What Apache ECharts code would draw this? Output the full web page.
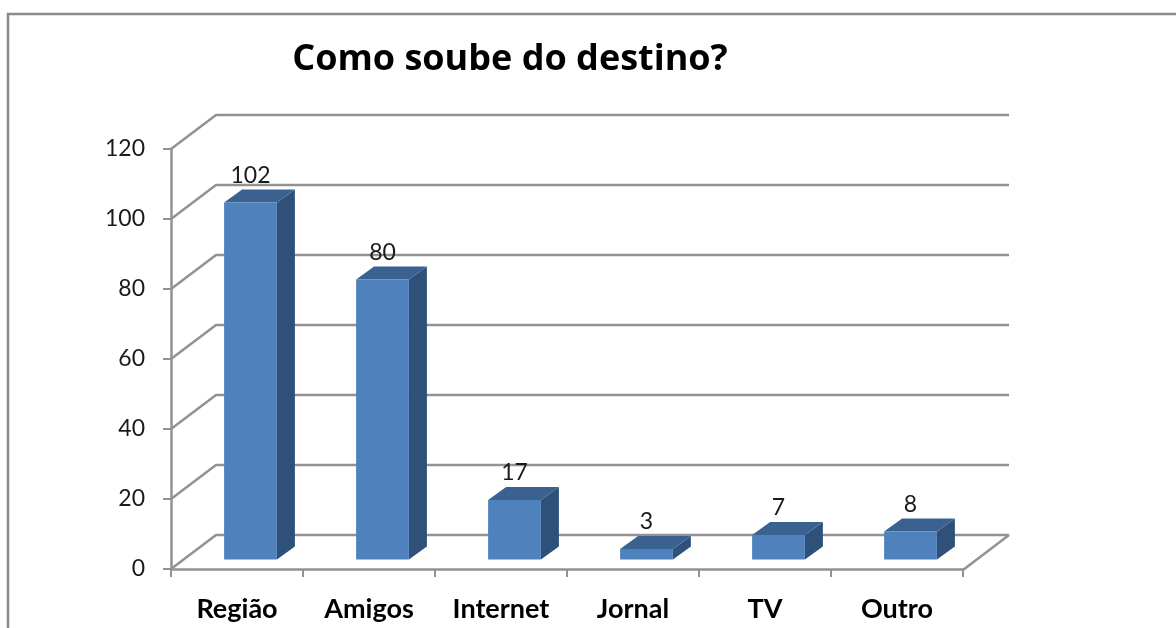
<!DOCTYPE html>
<html>
<head>
<meta charset="utf-8">
<style>
html, body { margin: 0; padding: 0; background: #fff; }
#main { width: 1176px; height: 628px; }
</style>
<script src="https://cdn.jsdelivr.net/npm/echarts@6/dist/echarts.min.js"></script>
</head>
<body>
<div id="main"></div>
<script>
var categories = ['Região', 'Amigos', 'Internet', 'Jornal', 'TV', 'Outro'];
var values = [102, 80, 17, 3, 7, 8];
var yTicks = [0, 20, 40, 60, 80, 100, 120];

var fontName = 'Lato, "Open Sans", sans-serif';
var lineColor = '#929292';

var chart = echarts.init(document.getElementById('main'));

// paredes e chao do falso 3D
function renderWall(params, api) {
    var bandW = api.size([1, 0])[0];
    var p = api.coord([0, api.value(1)]);
    var left = p[0] - bandW / 2;
    var right = left + bandW * categories.length;
    var children = [{
        type: 'polyline',
        shape: { points: [[left, p[1]], [left + 45, p[1] - 34], [right + 46, p[1] - 34]] },
        style: { stroke: lineColor, lineWidth: 2.5, fill: null }
    }];
    if (api.value(1) === 0) {
        children.push({
            type: 'line',
            shape: { x1: right, y1: p[1] + 1, x2: right + 46, y2: p[1] - 34 },
            style: { stroke: lineColor, lineWidth: 2.5 }
        });
    }
    return { type: 'group', children: children };
}

function renderBar(params, api) {
    var idx = api.value(0);
    var w = api.size([1, 0])[0] * 0.4;
    var base = api.coord([idx, 0]);
    var top = api.coord([idx, api.value(1)]);
    var x0 = base[0] + 13.5 - w / 2;
    var x1 = x0 + w;
    var y0 = top[1] - 9.5;
    var y1 = base[1] - 9.5;
    var dx = 18, dy = -13;
    return {
        type: 'group',
        children: [
            {
                type: 'polygon',
                shape: { points: [[x1, y0], [x1 + dx, y0 + dy], [x1 + dx, y1 + dy], [x1, y1]] },
                style: { fill: '#2f5179' }
            },
            {
                type: 'polygon',
                shape: { points: [[x0, y0], [x0 + dx, y0 + dy], [x1 + dx, y0 + dy], [x1, y0]] },
                style: { fill: '#3a6290' }
            },
            {
                type: 'rect',
                shape: { x: x0, y: y0, width: w, height: y1 - y0 },
                style: { fill: '#4f81bd' }
            },
            {
                type: 'text',
                style: {
                    x: x0 + w / 2, y: y0 - 27,
                    text: String(api.value(1)),
                    fill: '#1a1a1a',
                    font: '23px ' + fontName,
                    align: 'center',
                    verticalAlign: 'middle'
                }
            }
        ]
    };
}

chart.setOption({
    animation: false,
    backgroundColor: '#fff',
    title: {
        text: 'Como soube do destino?',
        left: 505,
        top: 37,
        textAlign: 'center',
        textStyle: { fontFamily: '"Open Sans", Lato, sans-serif', fontWeight: 'bold', fontSize: 36, color: '#000' }
    },
    graphic: [
        // moldura do grafico
        {
            type: 'polyline',
            silent: true,
            shape: { points: [[8, 628], [8, 14], [1176, 14]] },
            style: { stroke: '#8a8a8a', lineWidth: 2.5, fill: null }
        }
    ],
    grid: { left: 171, top: 149, width: 792, height: 420, containLabel: false },
    xAxis: {
        type: 'category',
        data: categories,
        axisLine: { lineStyle: { color: lineColor, width: 2.5 } },
        axisTick: { show: true, length: 8, alignWithLabel: false, lineStyle: { color: lineColor, width: 2 } },
        axisLabel: { margin: 27, color: '#000', fontFamily: fontName, fontWeight: 'bold', fontSize: 27, interval: 0 }
    },
    yAxis: {
        type: 'value',
        min: 0,
        max: 120,
        interval: 20,
        splitLine: { show: false },
        axisLine: { show: true, lineStyle: { color: lineColor, width: 2.5 } },
        axisTick: { show: true, length: 8, lineStyle: { color: lineColor, width: 2 } },
        axisLabel: { margin: 26, color: '#1a1a1a', fontFamily: fontName, fontSize: 23 }
    },
    series: [
        {
            type: 'custom',
            name: 'grade',
            silent: true,
            z: 1,
            renderItem: renderWall,
            data: yTicks.map(function (v) { return [0, v]; })
        },
        {
            type: 'custom',
            name: 'Como soube do destino?',
            z: 3,
            renderItem: renderBar,
            data: values.map(function (v, i) { return [i, v]; })
        }
    ]
});
</script>
</body>
</html>
